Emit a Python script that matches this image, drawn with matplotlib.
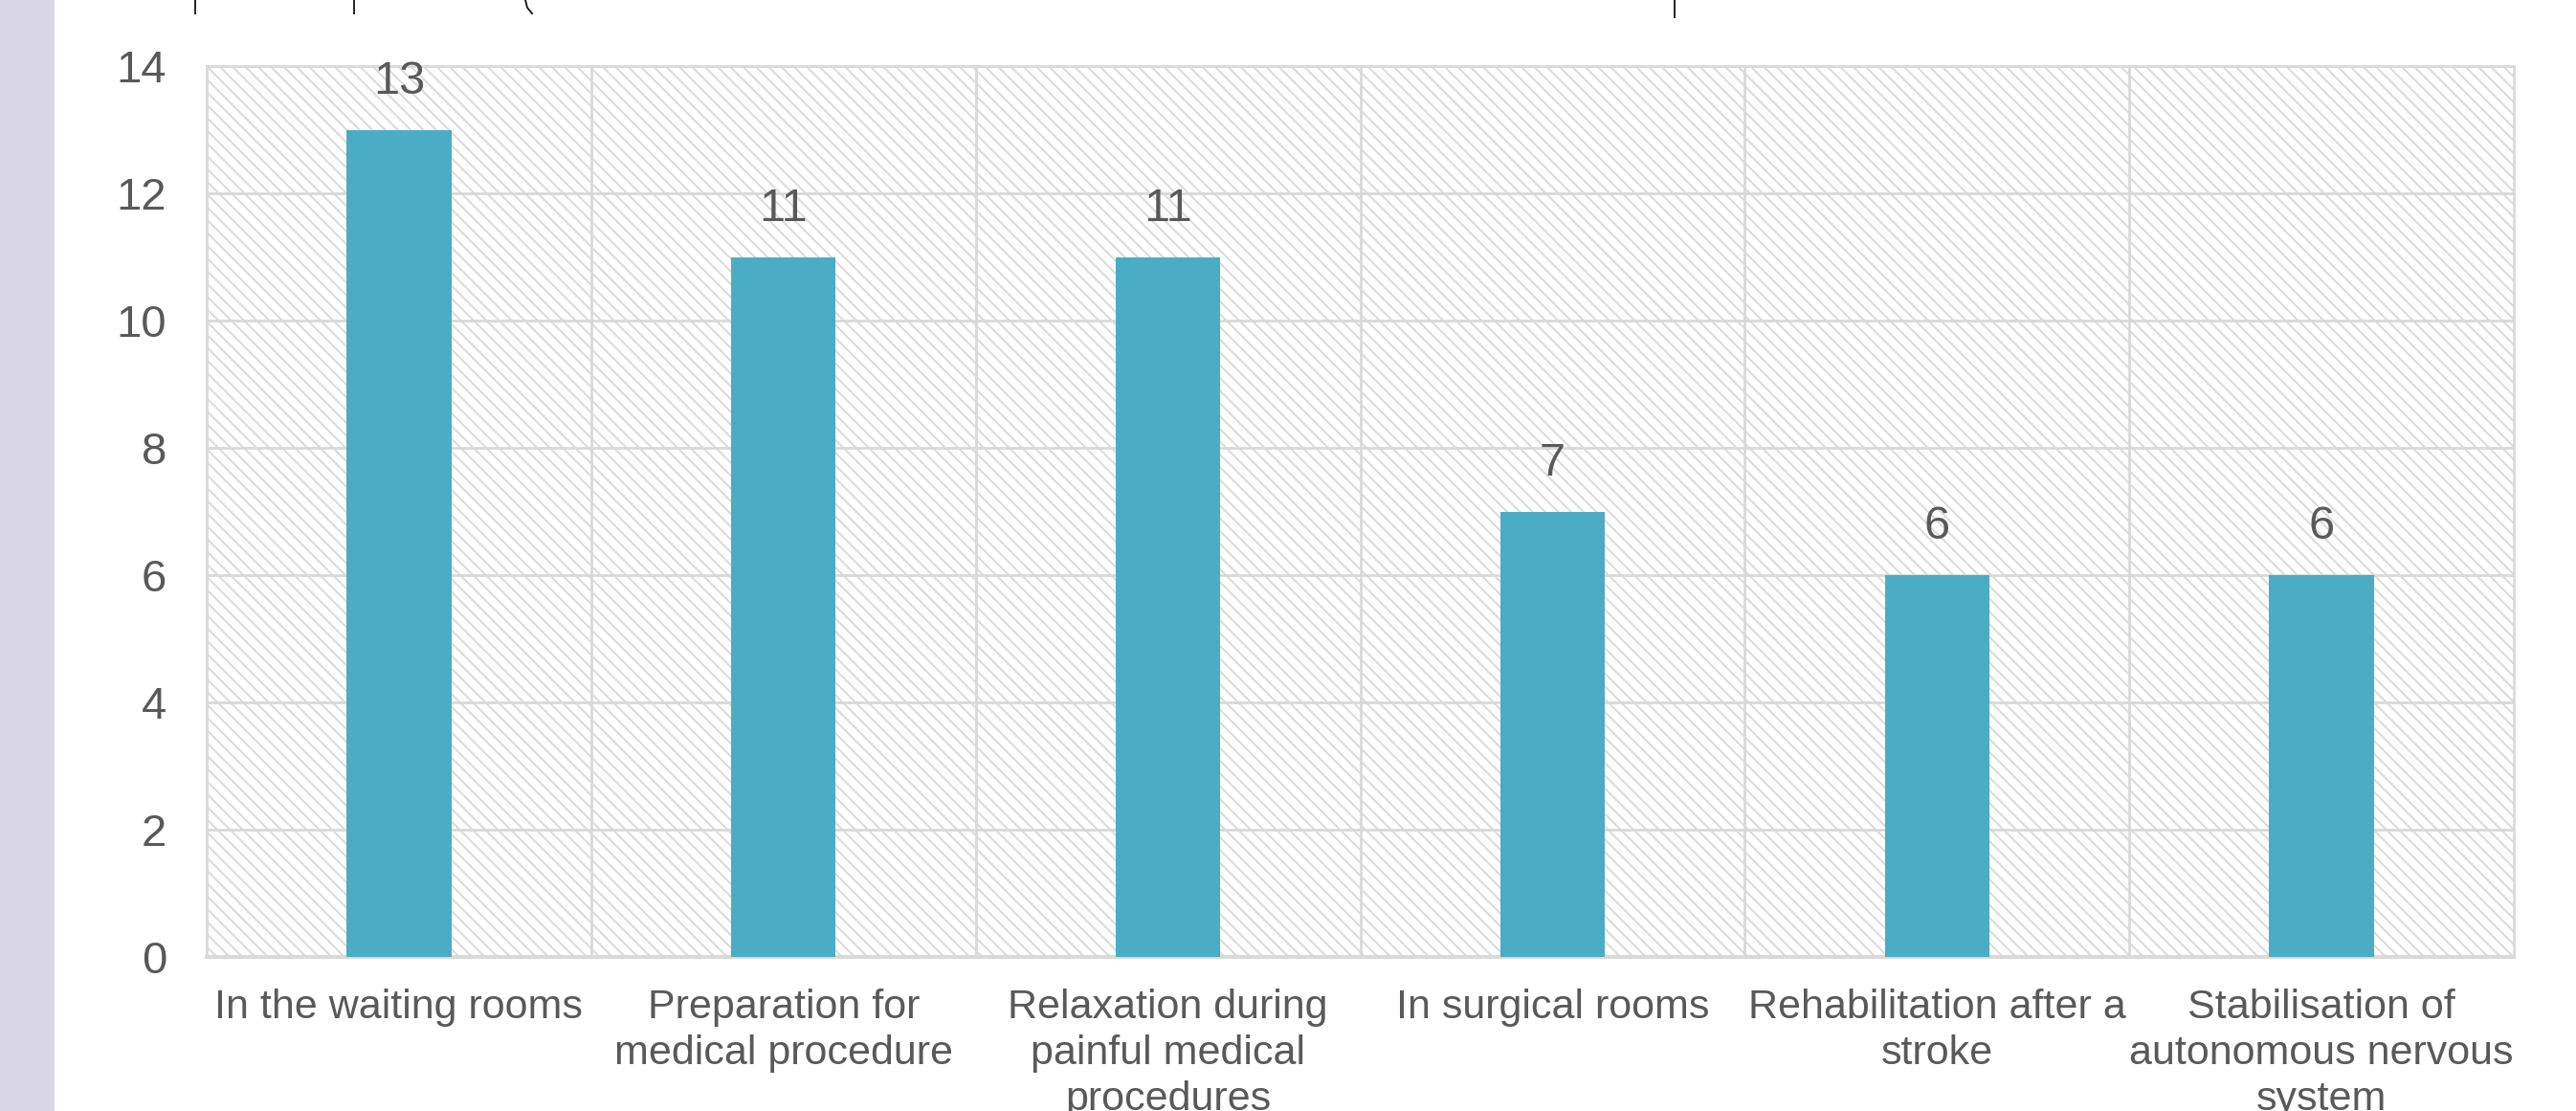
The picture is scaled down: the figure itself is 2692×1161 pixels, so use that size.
import matplotlib
matplotlib.use("Agg")
import matplotlib.pyplot as plt
from matplotlib.patches import Rectangle
from matplotlib.lines import Line2D

# data
categories = [
    "In the waiting rooms",
    "Preparation for\nmedical procedure",
    "Relaxation during\npainful medical\nprocedures",
    "In surgical rooms",
    "Rehabilitation after a\nstroke",
    "Stabilisation of\nautonomous nervous\nsystem",
]
counts = [13, 11, 11, 7, 6, 6]
y_ticks = [0, 2, 4, 6, 8, 10, 12, 14]

BAR = "#4BACC6"
GRID = "#d9d9d9"
HATCH = "#dcdcdc"
TEXT = "#595959"

plt.rcParams["font.family"] = ["Liberation Sans", "DejaVu Sans"]
plt.rcParams["hatch.color"] = HATCH
plt.rcParams["hatch.linewidth"] = 0.75

W, H = 2692, 1161
fig = plt.figure(figsize=(W / 200, H / 200), dpi=200)
fig.patch.set_facecolor("white")

# lavender strip on the left
fig.patches.append(Rectangle((0, 0), 57 / W, 1, transform=fig.transFigure,
                             facecolor="#dad7e6", edgecolor="none"))
# cut-off remnants of text above the chart
for x0, h in [(204, 14), (370, 14), (1750, 18)]:
    fig.add_artist(Line2D([x0 / W, x0 / W], [1, 1 - h / H], color="#222222", lw=0.7))
fig.add_artist(Line2D([549 / W, 551 / W, 556 / W], [1, 1 - 8 / H, 1 - 14 / H],
                      color="#222222", lw=0.7))

ax = fig.add_axes([216 / W, 1 - 1000 / H, (2627 - 216) / W, (1000 - 69) / H])
ax.patch.set_facecolor("white")
ax.patch.set_hatch("\\\\\\\\\\")
ax.patch.set_edgecolor(HATCH)
ax.patch.set_linewidth(0)

x = list(range(len(categories)))
ax.bar(x, counts, width=0.272, color=BAR, zorder=3)

for xi, v in zip(x, counts):
    ax.annotate(str(v), (xi, v), xytext=(0, 10), textcoords="offset points",
                ha="center", va="bottom", fontsize=17.5, color=TEXT)

ax.set_xlim(-0.5, len(categories) - 0.5)
ax.set_ylim(0, 14)
ax.set_yticks(y_ticks)
ax.set_xticks(x)
ax.set_xticklabels(categories, fontsize=15.5, color=TEXT, linespacing=1.26)
ax.set_xticks([i + 0.5 for i in x[:-1]], minor=True)
ax.tick_params(axis="y", length=0, pad=15, labelsize=17, labelcolor=TEXT)
ax.tick_params(axis="x", which="both", length=0, pad=12)

ax.set_axisbelow(True)
ax.grid(axis="y", which="major", color=GRID, lw=1.0)
ax.grid(axis="x", which="minor", color=GRID, lw=1.0)
for s in ax.spines.values():
    s.set_color(GRID)
    s.set_linewidth(1.0)
ax.spines["bottom"].set_linewidth(1.4)

fig.savefig("out.png", dpi=200)
